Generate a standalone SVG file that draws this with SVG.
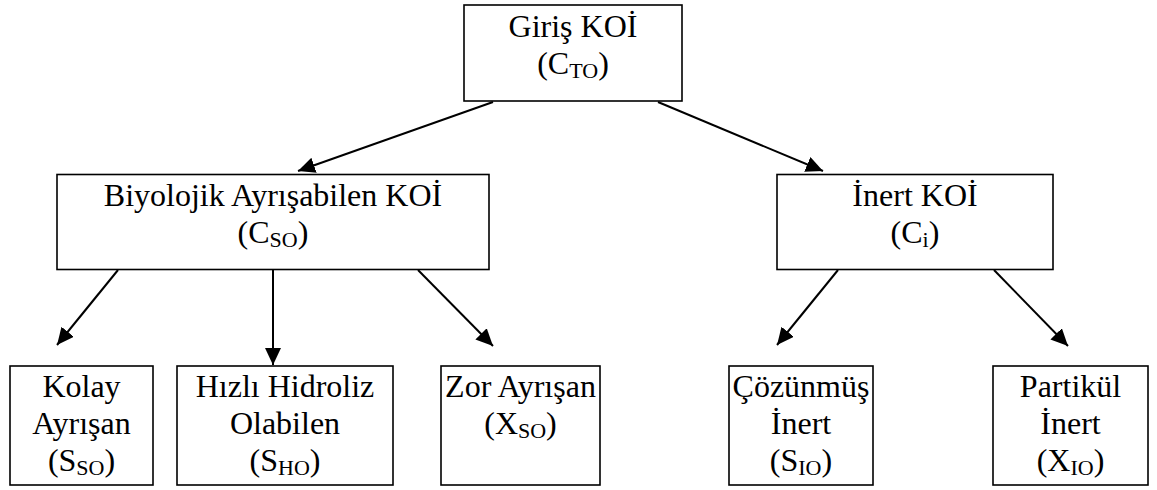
<svg xmlns="http://www.w3.org/2000/svg" width="1157" height="490" viewBox="0 0 1157 490">
<style>
.box{fill:#fff;stroke:#000;stroke-width:1.6}
.t{font-family:"Liberation Serif","Times New Roman",serif;font-size:32px;fill:#000;text-anchor:middle}
.s{font-size:22px}
.c{stroke:#000;stroke-width:2;fill:none;marker-end:url(#ah)}
</style>
<defs>
<marker id="ah" markerUnits="userSpaceOnUse" markerWidth="20" markerHeight="20" refX="17" refY="8" orient="auto">
<path d="M0,0 L17,8 L0,16 z" fill="#000"/>
</marker>
</defs>
<rect width="1157" height="490" fill="#fff"/>
<g id="connectors">
<line class="c" x1="493" y1="102" x2="298" y2="171"/>
<line class="c" x1="658" y1="102" x2="823" y2="171"/>
<line class="c" x1="118" y1="270" x2="57" y2="345"/>
<line class="c" x1="273" y1="270" x2="273" y2="365"/>
<line class="c" x1="418" y1="270" x2="493" y2="346"/>
<line class="c" x1="838" y1="270" x2="777" y2="345"/>
<line class="c" x1="994" y1="270" x2="1068" y2="346"/>
</g>
<g id="giris">
<rect class="box" x="464" y="5" width="218" height="96"/>
<text class="t" x="573" y="37">Giriş KOİ</text>
<text class="t" x="573" y="74">(C<tspan class="s" dy="4">TO</tspan><tspan dy="-4">)</tspan></text>
</g>
<g id="biyolojik">
<rect class="box" x="57" y="174.5" width="432" height="95"/>
<text class="t" x="273" y="206">Biyolojik Ayrışabilen KOİ</text>
<text class="t" x="273" y="243">(C<tspan class="s" dy="4">SO</tspan><tspan dy="-4">)</tspan></text>
</g>
<g id="inert">
<rect class="box" x="777" y="174.5" width="276" height="95"/>
<text class="t" x="915" y="206">İnert KOİ</text>
<text class="t" x="915" y="243">(C<tspan class="s" dy="4">i</tspan><tspan dy="-4">)</tspan></text>
</g>
<g id="kolay">
<rect class="box" x="10" y="366" width="143" height="119"/>
<text class="t" x="81.5" y="397">Kolay</text>
<text class="t" x="81.5" y="434">Ayrışan</text>
<text class="t" x="81.5" y="471">(S<tspan class="s" dy="4">SO</tspan><tspan dy="-4">)</tspan></text>
</g>
<g id="hizli">
<rect class="box" x="177" y="366" width="216" height="119"/>
<text class="t" x="285" y="397">Hızlı Hidroliz</text>
<text class="t" x="285" y="434">Olabilen</text>
<text class="t" x="285" y="471">(S<tspan class="s" dy="4">HO</tspan><tspan dy="-4">)</tspan></text>
</g>
<g id="zor">
<rect class="box" x="441" y="366" width="159" height="119"/>
<text class="t" x="520.5" y="397">Zor Ayrışan</text>
<text class="t" x="520.5" y="434">(X<tspan class="s" dy="4">SO</tspan><tspan dy="-4">)</tspan></text>
</g>
<g id="cozunmus">
<rect class="box" x="729" y="366" width="144" height="119"/>
<text class="t" x="801" y="397">Çözünmüş</text>
<text class="t" x="801" y="434">İnert</text>
<text class="t" x="801" y="471">(S<tspan class="s" dy="4">IO</tspan><tspan dy="-4">)</tspan></text>
</g>
<g id="partikul">
<rect class="box" x="993" y="366" width="155" height="119"/>
<text class="t" x="1070.5" y="397">Partikül</text>
<text class="t" x="1070.5" y="434">İnert</text>
<text class="t" x="1070.5" y="471">(X<tspan class="s" dy="4">IO</tspan><tspan dy="-4">)</tspan></text>
</g>
</svg>
